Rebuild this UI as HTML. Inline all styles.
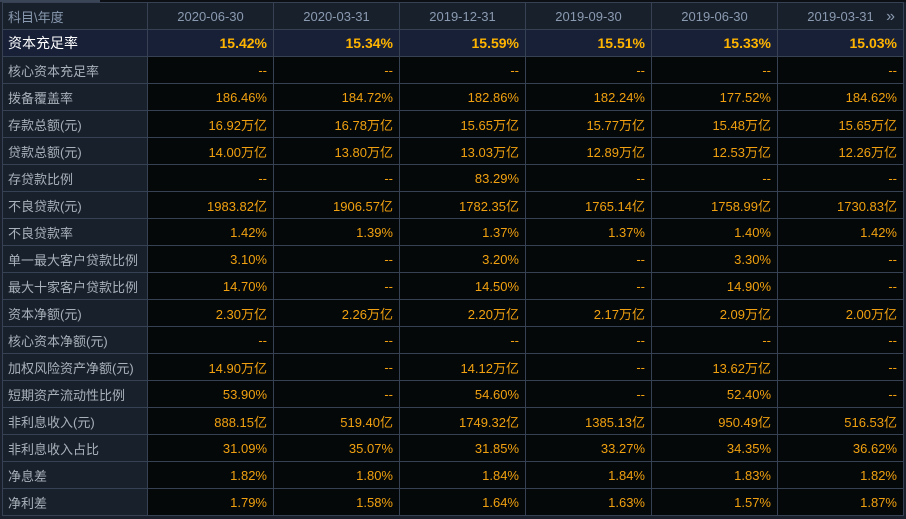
<!DOCTYPE html>
<html><head><meta charset="utf-8"><style>
body{margin:0;width:906px;height:519px;background:#1a212c;overflow:hidden;font-family:"Liberation Sans","Noto Sans CJK SC",sans-serif}
#tabs{position:absolute;left:0;top:0;width:906px;height:2px;background:#0c0f14}
#tab1{position:absolute;left:0;top:0;width:100px;height:2px;background:#3a4658}
table{position:absolute;left:2px;top:2px;border-collapse:collapse;table-layout:fixed}
td{height:26px;border:1px solid #364254;padding:0 6px 0 0;font-size:13px;text-align:right;color:#f0a010;background:#050808;white-space:nowrap;overflow:hidden}
td.l{text-align:left;padding-left:5px;color:#a8b0ba;background:#18202c}
tr.h td{background:#18202c;color:#8a9ab0;text-align:center;padding:0}
tr.h td.l{text-align:left;padding-left:5px}
tr.s td{background:#182038;color:#ffb400;font-weight:bold;font-size:14px}
tr.s td.l{color:#fff;font-weight:normal}
</style></head><body>
<div id="tabs"><div id="tab1"></div></div>
<table>
<colgroup><col style="width:145px"><col style="width:126px"><col style="width:126px"><col style="width:126px"><col style="width:126px"><col style="width:126px"><col style="width:126px"></colgroup>
<tbody id="tb"></tbody></table>
<script>
const dates=["2020-06-30","2020-03-31","2019-12-31","2019-09-30","2019-06-30","2019-03-31"];
const rows=[
["资本充足率","15.42%","15.34%","15.59%","15.51%","15.33%","15.03%"],
["核心资本充足率","--","--","--","--","--","--"],
["拨备覆盖率","186.46%","184.72%","182.86%","182.24%","177.52%","184.62%"],
["存款总额(元)","16.92万亿","16.78万亿","15.65万亿","15.77万亿","15.48万亿","15.65万亿"],
["贷款总额(元)","14.00万亿","13.80万亿","13.03万亿","12.89万亿","12.53万亿","12.26万亿"],
["存贷款比例","--","--","83.29%","--","--","--"],
["不良贷款(元)","1983.82亿","1906.57亿","1782.35亿","1765.14亿","1758.99亿","1730.83亿"],
["不良贷款率","1.42%","1.39%","1.37%","1.37%","1.40%","1.42%"],
["单一最大客户贷款比例","3.10%","--","3.20%","--","3.30%","--"],
["最大十家客户贷款比例","14.70%","--","14.50%","--","14.90%","--"],
["资本净额(元)","2.30万亿","2.26万亿","2.20万亿","2.17万亿","2.09万亿","2.00万亿"],
["核心资本净额(元)","--","--","--","--","--","--"],
["加权风险资产净额(元)","14.90万亿","--","14.12万亿","--","13.62万亿","--"],
["短期资产流动性比例","53.90%","--","54.60%","--","52.40%","--"],
["非利息收入(元)","888.15亿","519.40亿","1749.32亿","1385.13亿","950.49亿","516.53亿"],
["非利息收入占比","31.09%","35.07%","31.85%","33.27%","34.35%","36.62%"],
["净息差","1.82%","1.80%","1.84%","1.84%","1.83%","1.82%"],
["净利差","1.79%","1.58%","1.64%","1.63%","1.57%","1.87%"]];
const tb=document.getElementById('tb');
let h=document.createElement('tr');h.className='h';


let c=document.createElement('td');c.className='l';c.textContent='科目\\年度';


h.appendChild(c);
dates.forEach((d,i)=>{let t=document.createElement('td');t.textContent=d;
if(i==5){t.innerHTML=d+'<span style="position:absolute;right:8px;margin-top:-1px;font-size:16px;color:#8a9ab0">»</span>';t.style.position='relative';}


h.appendChild(t);});
tb.appendChild(h);
rows.forEach((r,i)=>{let tr=document.createElement('tr');if(i==0)tr.className='s';


r.forEach((v,j)=>{let t=document.createElement('td');if(j==0)t.className='l';t.textContent=v;


tr.appendChild(t);});tb.appendChild(tr);});
</script>
</body></html>
